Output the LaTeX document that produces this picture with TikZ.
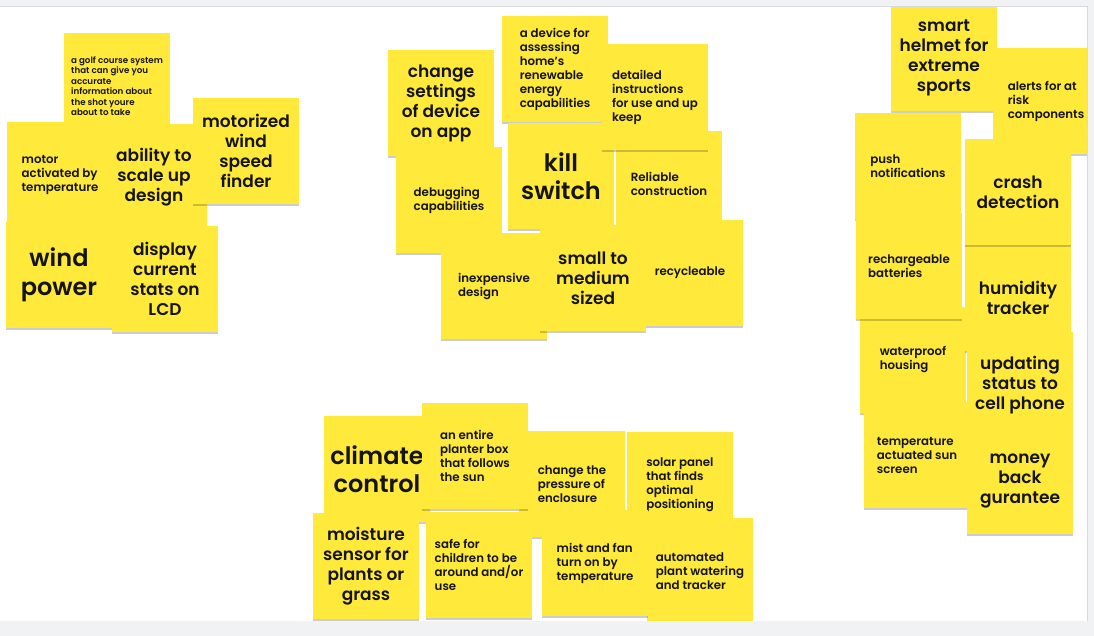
\documentclass[tikz,border=0pt]{standalone}
\usepackage{fontspec}
\setmainfont{Poppins}[BoldFont={Poppins SemiBold}]
\usetikzlibrary{shadows}
\definecolor{stickyyellow}{RGB}{255,233,59}
\definecolor{uigray}{RGB}{241,242,244}
\definecolor{uiline}{RGB}{216,217,222}
\definecolor{inkblack}{RGB}{20,20,20}

\begin{document}
\begin{tikzpicture}[x=1pt,y=-1pt,
    note/.style={anchor=north west,fill=stickyyellow,minimum width=106pt,minimum height=106pt,
      inner sep=0pt,outer sep=0pt,text=inkblack,align=left,
      drop shadow={shadow xshift=0pt,shadow yshift=-1.6pt,fill=black,opacity=.2}},
    txttiny/.style={font=\fontsize{8.7}{10.5}\selectfont\bfseries},
    txtsm/.style={font=\fontsize{11.8}{14}\selectfont\bfseries},
    txtmd/.style={align=center,font=\fontsize{17}{20}\selectfont\bfseries},
    txtlg/.style={align=center,font=\fontsize{24}{28.5}\selectfont\bfseries}]
  \useasboundingbox (0,0) rectangle (1094,636);
  \fill[white] (0,0) rectangle (1094,636);
  % wind cluster
  \node[note,txttiny] (golf) at (64,33) {a golf course system\\that can give you\\accurate\\information about\\the shot youre\\about to take};
  \node[note,txtsm] (motor) at (7,122) {motor\\activated by\\temperature};
  \node[note,txtmd] (ability) at (101,124) {ability to\\scale up\\design};
  \node[note,txtmd] (windfinder) at (193,98) {motorized\\wind\\speed\\finder};
  \node[note,txtlg] (windpower) at (6,222) {wind\\power};
  \node[note,txtmd] (display) at (112,226) {display\\current\\stats on\\LCD};
  % home device cluster
  \node[note,txtmd] (appsettings) at (388,50) {change\\settings\\of device\\on app};
  \node[note,txtsm] (debugging) at (396,147) {debugging\\capabilities};
  \node[note,txtsm] (homedevice) at (502,16) {a device for\\assessing\\home's\\renewable\\energy\\capabilities};
  \node[note,txtlg] (killswitch) at (508,123) {kill\\switch};
  \node[note,txtsm] (reliable) at (616,131) {Reliable\\construction};
  \node[note,txtsm] (instructions) at (602,44) {detailed\\instructions\\for use and up\\keep};
  \node[note,txtsm] (recycle) at (637,220) {recycleable};
  \node[note,txtsm] (cheap) at (441,233) {inexpensive\\design};
  \node[note,txtmd] (smallsize) at (540,225) {small to\\medium\\sized};
  % helmet cluster
  \node[note,txtmd] (helmet) at (891,5) {smart\\helmet for\\extreme\\sports};
  \node[note,txtsm] (alerts) at (993,48) {alerts for at\\risk\\components};
  \node[note,txtsm] (push) at (855,113) {push\\notifications};
  \node[note,txtsm] (waterproof) at (860,307) {waterproof\\housing};
  \node[note,txtsm] (batteries) at (856,213) {rechargeable\\batteries};
  \node[note,txtmd] (humidity) at (965,245) {humidity\\tracker};
  \node[note,txtmd] (crash) at (965,139) {crash\\detection};
  \node[note,txtmd] (cellstatus) at (967,332) {updating\\status to\\cell phone};
  \node[note,txtsm] (sunscreen) at (864,402) {temperature\\actuated sun\\screen};
  \node[note,txtmd] (moneyback) at (967,428) {money\\back\\gurantee};
  % plant cluster
  \node[note,txtlg] (climate) at (324,416) {climate\\control};
  \node[note,txtsm] (pressure) at (519,431) {change the\\pressure of\\enclosure};
  \node[note,txtsm] (planter) at (422,403) {an entire\\planter box\\that follows\\the sun};
  \node[note,txtsm] (solar) at (627,432) {solar panel\\that finds\\optimal\\positioning};
  \node[note,txtmd] (moisture) at (313,513) {moisture\\sensor for\\plants or\\grass};
  \node[note,txtsm] (childsafe) at (426,512) {safe for\\children to be\\around and/or\\use};
  \node[note,txtsm] (watering) at (647,518) {automated\\plant watering\\and tracker};
  \node[note,txtsm] (mistfan) at (542,510) {mist and fan\\turn on by\\temperature};
  % board frame
  \fill[uigray] (0,0) rectangle (1094,7);
  \fill[uigray] (1087,0) rectangle (1094,636);
  \fill[uigray] (0,621) rectangle (1094,636);
  \draw[uiline,line width=1.2pt] (0,6.4) -- (1087.6,6.4) -- (1087.6,621);
\end{tikzpicture}
\end{document}
